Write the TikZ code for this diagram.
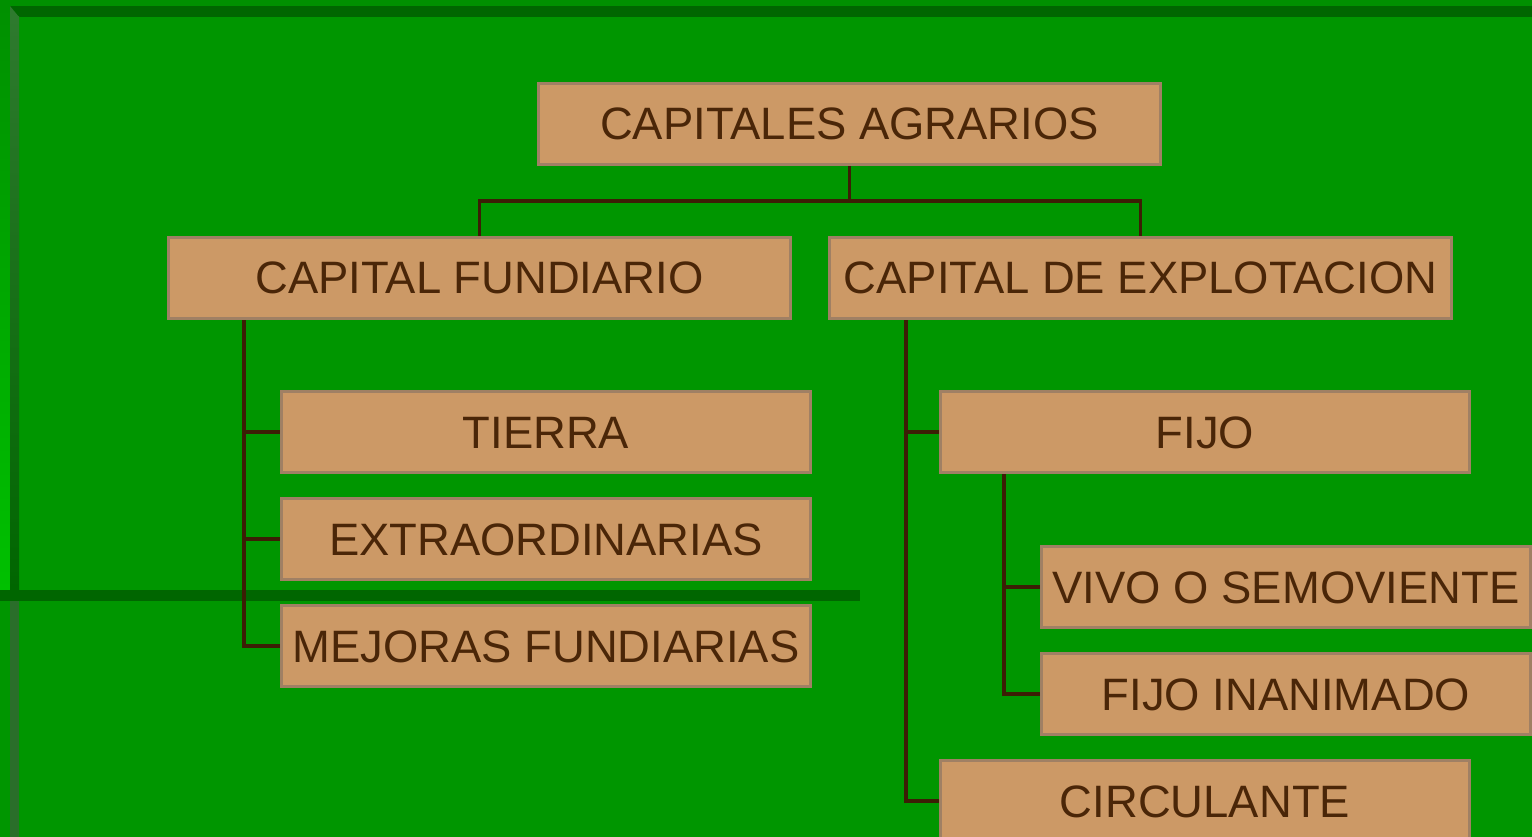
\documentclass[tikz,border=0pt]{standalone}
\usepackage{fontspec}
\setmainfont{Liberation Sans}
\definecolor{bggreen}{RGB}{0,150,0}
\definecolor{darkband}{RGB}{0,102,0}
\definecolor{stripA}{RGB}{0,144,0}
\definecolor{stripB}{RGB}{0,192,0}
\definecolor{greyA}{RGB}{46,122,46}
\definecolor{greyB}{RGB}{42,110,42}
\definecolor{boxfill}{RGB}{204,153,102}
\definecolor{boxedge}{RGB}{160,128,100}
\definecolor{txtbrown}{RGB}{74,38,8}
\definecolor{linebrown}{RGB}{60,30,5}
\begin{document}
\begin{tikzpicture}[x=1pt,y=-1pt,
  box/.style={draw=boxedge, fill=boxfill, line width=3pt, text=txtbrown,
    minimum height=81pt, inner sep=0pt, font=\fontsize{45.4}{54}\selectfont,
    text height=32pt, text depth=0pt},
  link/.style={draw=linebrown, line width=3.2pt}]
\useasboundingbox (0,0) rectangle (1532,837);
\clip (0,0) rectangle (1532,837);
% background and frame
\fill[bggreen] (0,0) rectangle (1532,837);
\fill[stripA] (0,0) rectangle (1532,6);
\fill[darkband] (10,6) rectangle (1532,17);
\shade[top color=stripA, bottom color=stripB] (0,6) rectangle (10,590);
\shade[top color=greyA, bottom color=darkband] (10,17) rectangle (19,590);
\fill[greyA] (10,6) -- (19,17) -- (10,17) -- cycle;
\fill[darkband] (0,590) rectangle (860,601);
\fill[greyB] (10,601) rectangle (19,837);
% boxes
\node[box, minimum width=622pt] (root) at (849.5,124) {CAPITALES AGRARIOS};
\node[box, minimum width=622pt] (fund) at (479.5,278) {CAPITAL FUNDIARIO};
\node[box, minimum width=622pt] (expl) at (1140.5,278) {CAPITAL DE EXPLOTACION};
\node[box, minimum width=529pt] (tierra) at (546,432) {TIERRA};
\node[box, minimum width=529pt] (extra) at (546,539) {EXTRAORDINARIAS};
\node[box, minimum width=529pt] (mejoras) at (546,646) {MEJORAS FUNDIARIAS};
\node[box, minimum width=529pt] (fijo) at (1205,432) {FIJO};
\node[box, minimum width=489pt] (vivo) at (1286,587) {VIVO O SEMOVIENTE};
\node[box, minimum width=489pt] (inan) at (1286,694) {FIJO INANIMADO};
\node[box, minimum width=529pt] (circ) at (1205,801) {CIRCULANTE};
% connectors
\coordinate (split) at (849.5,201);
\draw[link] (root.south) -- (split) -| (fund.north);
\draw[link] (split) -| (expl.north);
\draw[link] ([xshift=77pt]fund.south west) |- (tierra.west);
\draw[link] ([xshift=77pt]fund.south west) |- (extra.west);
\draw[link] ([xshift=77pt]fund.south west) |- (mejoras.west);
\draw[link] ([xshift=78pt]expl.south west) |- (fijo.west);
\draw[link] ([xshift=78pt]expl.south west) |- (circ.west);
\draw[link] ([xshift=65pt]fijo.south west) |- (vivo.west);
\draw[link] ([xshift=65pt]fijo.south west) |- (inan.west);
\end{tikzpicture}
\end{document}
